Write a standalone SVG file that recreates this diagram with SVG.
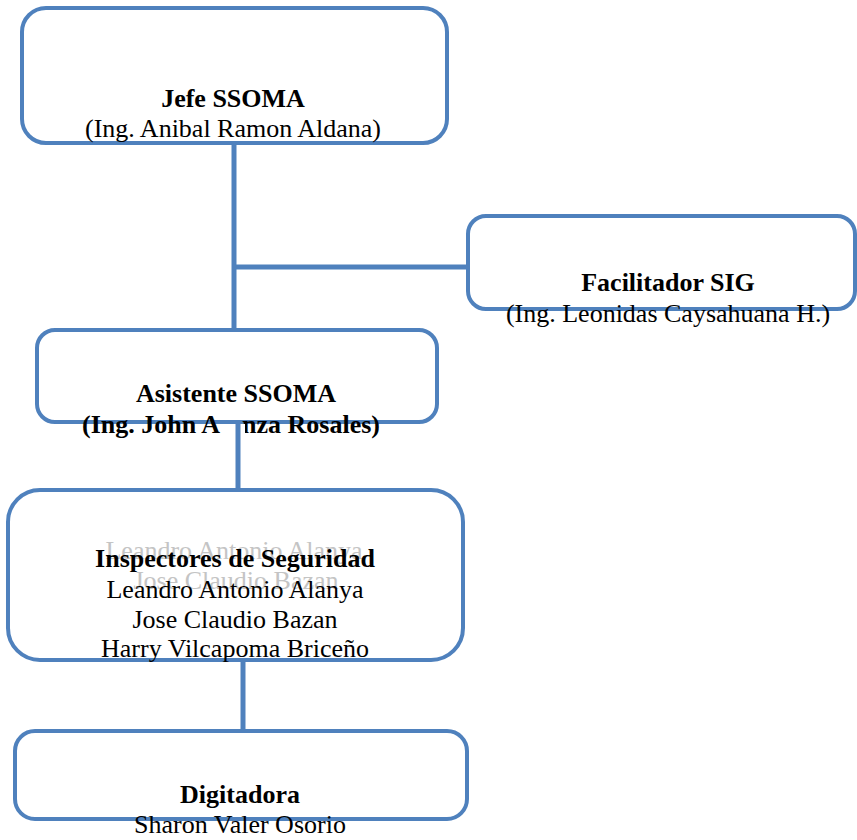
<svg xmlns="http://www.w3.org/2000/svg" width="857" height="840" viewBox="0 0 857 840">
<style>
.box{fill:#ffffff;stroke:#4f81bd;stroke-width:4}
.conn{stroke:#4f81bd;stroke-width:5;fill:none}
.t{font-family:"Liberation Serif","Times New Roman",serif;font-size:26px;fill:#000;text-anchor:middle}
.b{font-weight:bold}
.ghost{fill:#c4c4c4}
</style>
<rect width="857" height="840" fill="#ffffff"/>
<g id="node-jefe">
<rect class="box" x="22" y="8" width="425" height="135" rx="24" ry="24"/>
<text class="t b" x="233" y="107">Jefe SSOMA</text>
<text class="t" x="233" y="137">(Ing. Anibal Ramon Aldana)</text>
</g>
<g id="node-facilitador">
<rect class="box" x="468" y="216" width="387" height="93" rx="18" ry="18"/>
<text class="t b" x="668" y="291">Facilitador SIG</text>
<text class="t" x="668" y="322">(Ing. Leonidas Caysahuana H.)</text>
</g>
<g id="node-asistente">
<rect class="box" x="37" y="330" width="400" height="92" rx="18" ry="18"/>
<text class="t b" x="236" y="402">Asistente SSOMA</text>
<text class="t b" x="220" y="433" style="text-anchor:end">(Ing. John A</text>
<text class="t b" x="380" y="433" style="text-anchor:end">nza Rosales)</text>
</g>
<g id="node-inspectores">
<rect class="box" x="8" y="490" width="455" height="170" rx="32" ry="32"/>
<text class="t ghost" x="234" y="559">Leandro Antonio Alanya</text>
<text class="t ghost" x="236" y="589">Jose Claudio Bazan</text>
<text class="t b" x="235" y="567">Inspectores de Seguridad</text>
<text class="t" x="235" y="598">Leandro Antonio Alanya</text>
<text class="t" x="235" y="628">Jose Claudio Bazan</text>
<text class="t" x="235" y="657">Harry Vilcapoma Briceño</text>
</g>
<g id="node-digitadora">
<rect class="box" x="15" y="731" width="452" height="88" rx="20" ry="20"/>
<text class="t b" x="240" y="803">Digitadora</text>
<text class="t" x="240" y="833">Sharon Valer Osorio</text>
</g>
<g id="connectors">
<line class="conn" x1="234" y1="145" x2="234" y2="328"/>
<line class="conn" x1="234" y1="267" x2="466" y2="267"/>
<rect x="221" y="424" width="24" height="64" fill="#ffffff"/>
<line class="conn" x1="238" y1="424" x2="238" y2="488"/>
<line class="conn" x1="243" y1="662" x2="243" y2="729"/>
</g>
</svg>
